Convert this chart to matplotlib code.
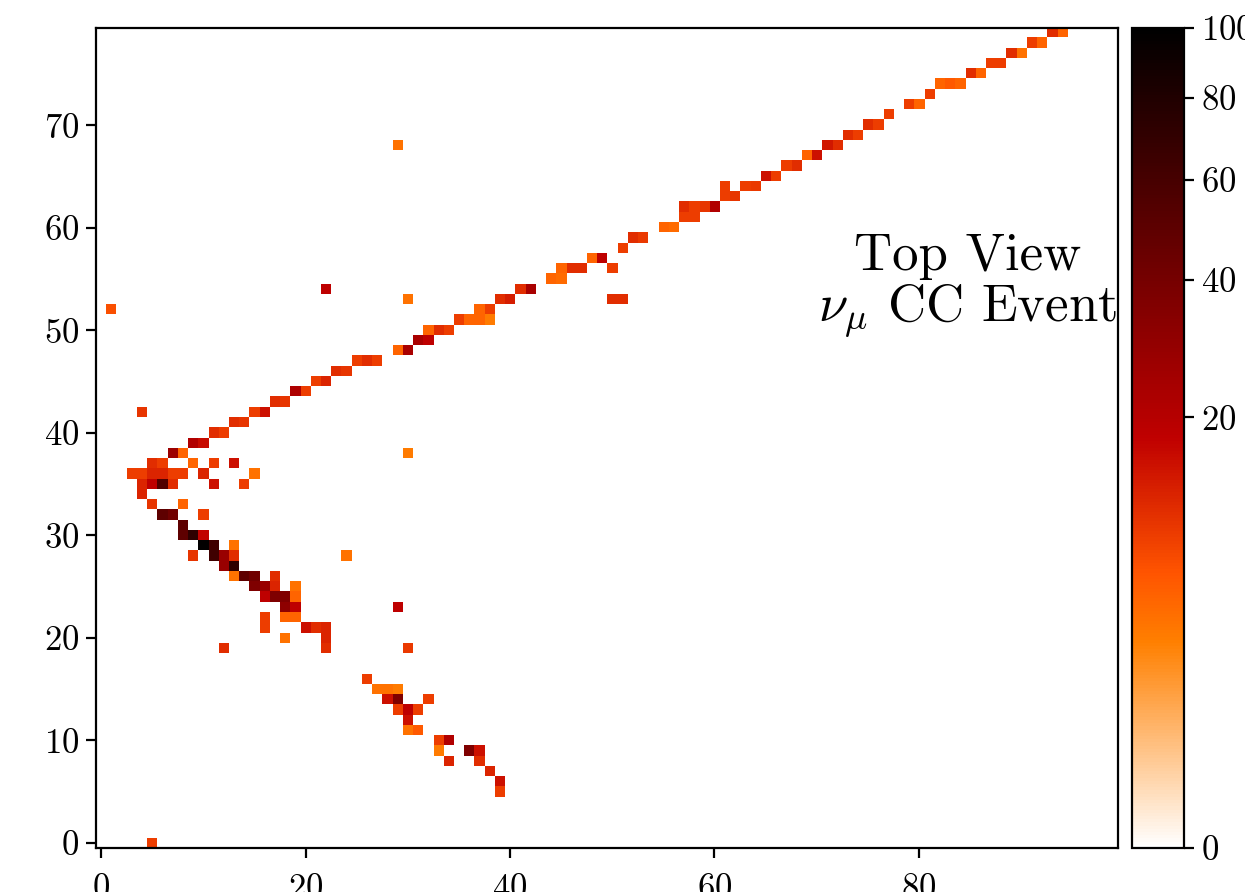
import numpy as np
import matplotlib
matplotlib.use("Agg")
import matplotlib.pyplot as plt
from matplotlib.colors import PowerNorm

plt.rcParams["font.family"] = "serif"
plt.rcParams["font.serif"] = ["cmr10"]
plt.rcParams["mathtext.fontset"] = "cm"
plt.rcParams["axes.formatter.use_mathtext"] = True
plt.rcParams["font.size"] = 12.5

# Detector grid size (wires x time ticks)
n_x, n_y = 100, 80

# Hit cells: column, row, charge
hit_x = [5, 1, 4, 22, 29, 30, 30, 24, 29,
         3, 4, 5, 6, 7, 8, 10, 15,
         5, 6, 9, 11, 13,
         7, 8, 9, 10, 11, 12, 13, 14, 15, 16, 17, 18, 19, 20, 21, 22,
         23, 24, 25, 26, 27, 29, 30, 31, 32, 32, 33, 34,
         35, 36, 37, 38, 37, 38, 39, 40, 41, 42, 44, 45,
         45, 46, 47, 50, 48, 49, 50, 51, 51, 52, 53, 55, 56,
         57, 58, 57, 58, 59, 60, 61, 62, 61, 63, 64, 65, 66, 67, 68,
         69, 70, 71, 72, 73, 74, 75, 76, 77, 79, 80, 81, 82, 83, 84,
         85, 86, 87, 88, 89, 90, 91, 92, 93, 94,
         4, 5, 6, 7, 11, 14, 4, 5, 8, 6, 7, 10, 8,
         8, 9, 10, 10, 11, 13, 9, 11, 12, 13, 12, 13,
         13, 14, 15, 17, 15, 16, 17, 19, 16, 17, 18, 19,
         18, 19, 16, 18, 19, 16, 20, 21, 22, 18, 22, 12, 22, 30,
         26, 27, 28, 29, 28, 29, 32, 29, 30, 31, 30, 30, 31,
         33, 34, 33, 36, 37, 34, 37, 38, 39, 39]
hit_y = [0, 52, 42, 54, 68, 53, 38, 28, 23,
         36, 36, 36, 36, 36, 36, 36, 36,
         37, 37, 37, 37, 37,
         38, 38, 39, 39, 40, 40, 41, 41, 42, 42, 43, 43, 44, 44, 45, 45,
         46, 46, 47, 47, 47, 48, 48, 49, 49, 50, 50, 50,
         51, 51, 51, 51, 52, 52, 53, 53, 54, 54, 55, 55,
         56, 56, 56, 56, 57, 57, 53, 53, 58, 59, 59, 60, 60,
         61, 61, 62, 62, 62, 62, 63, 63, 64, 64, 64, 65, 65, 66, 66,
         67, 67, 68, 68, 69, 69, 70, 70, 71, 72, 72, 73, 74, 74, 74,
         75, 75, 76, 76, 77, 77, 78, 78, 79, 79,
         35, 35, 35, 35, 35, 35, 34, 33, 33, 32, 32, 32, 31,
         30, 30, 30, 29, 29, 29, 28, 28, 28, 28, 27, 27,
         26, 26, 26, 26, 25, 25, 25, 25, 24, 24, 24, 24,
         23, 23, 22, 22, 22, 21, 21, 21, 21, 20, 20, 19, 19, 19,
         16, 15, 15, 15, 14, 14, 14, 13, 13, 13, 12, 11, 11,
         10, 10, 9, 9, 9, 8, 8, 7, 6, 5]
hit_val = [9, 7, 10, 18, 4, 4, 3.5, 4, 18,
           9, 9, 12, 12, 9, 9, 12, 4,
           11, 9, 5, 9, 15,
           27, 5, 21, 16, 11, 9, 11, 10, 9, 15, 11, 10, 22, 9, 9, 12,
           11, 10, 9, 11, 9, 5, 23, 23, 18, 5, 11, 9,
           9, 5, 5, 3.5, 5, 9, 11, 13, 11, 23, 5, 4.5,
           5, 11, 11, 9, 5, 18, 11, 11, 9, 11, 9.5, 5, 4.5,
           9, 9, 11, 9, 10, 21, 9, 10, 9, 9, 9.5, 15, 9, 9, 11,
           5, 15, 14, 11, 11, 9, 11, 9, 9, 9, 5, 9, 5, 6, 5,
           11, 5, 9, 9, 11, 4, 9, 5, 11, 5,
           12, 18, 55, 11, 15, 9, 12, 10, 5, 49, 42, 9, 49,
           49, 72, 17, 98, 63, 4, 10, 63, 28, 11, 28, 72,
           4, 49, 42, 11, 36, 28, 12, 4, 18, 36, 36, 5,
           31, 18, 9, 5, 5, 9, 15, 11, 12, 4, 12, 11, 11, 9.5,
           9, 4, 4, 3.5, 15, 36, 9, 9, 18, 9, 15, 4, 6,
           9, 21, 3.5, 36, 15, 12, 11, 12, 15, 9]

grid = np.zeros((n_y, n_x))
for x, y, v in zip(hit_x, hit_y, hit_val):
    grid[y, x] = v

fig = plt.figure(figsize=(6.225, 4.46), dpi=200)
ax = fig.add_axes([0.0771, 0.0493, 0.8209, 0.9193])
cax = fig.add_axes([0.9092, 0.0493, 0.0418, 0.9193])

im = ax.imshow(grid, origin="lower", cmap="gist_heat_r",
               norm=PowerNorm(gamma=0.4, vmin=0, vmax=100),
               interpolation="nearest", aspect="auto")
ax.set_xticks([0, 20, 40, 60, 80])
ax.set_yticks(range(0, 80, 10))
ax.tick_params(axis="y", pad=2.5)
ax.tick_params(axis="x", pad=5.5)

ax.text(84.8, 54.3, "Top View\n$\\nu_\\mu$ CC Event", fontsize=19,
        ha="center", va="center", linespacing=1.05)

cb = fig.colorbar(im, cax=cax)
cb.set_ticks([0, 20, 40, 60, 80, 100])
cb.ax.tick_params(pad=2.5)

fig.savefig("out.png", dpi=200)
